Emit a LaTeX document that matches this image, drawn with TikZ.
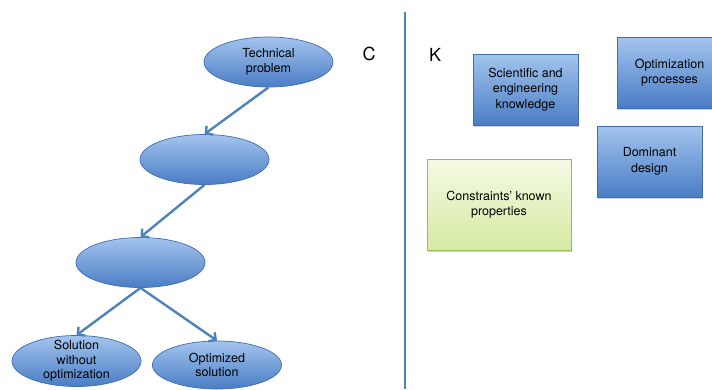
\documentclass[tikz,border=0pt]{standalone}
\usepackage{fontspec}
\setmainfont{TeX Gyre Heros}
\usetikzlibrary{shapes.geometric, arrows.meta, shadows}
\definecolor{ovaltop}{HTML}{A3C4EE}
\definecolor{ovalbottom}{HTML}{4A7DC4}
\definecolor{ovalline}{HTML}{3F6DAE}
\definecolor{linkblue}{HTML}{4F81BD}
\definecolor{greentop}{HTML}{F4FAE4}
\definecolor{greenbottom}{HTML}{D6EAA2}
\definecolor{greenline}{HTML}{9BBB59}
\tikzset{
    oval/.style={
        ellipse, minimum width=129pt, minimum height=50pt, inner sep=0pt,
        draw=ovalline, line width=0.7pt, top color=ovaltop, bottom color=ovalbottom,
        align=center, font=\fontsize{12.5}{14.5}\selectfont
    },
    kbox/.style={
        rectangle, minimum width=105pt, minimum height=71pt, inner sep=2pt,
        draw=ovalline, line width=0.7pt, top color=ovaltop, bottom color=ovalbottom,
        drop shadow={opacity=0.35, shadow xshift=1pt, shadow yshift=-1.5pt},
        align=center, font=\fontsize{12.5}{15.5}\selectfont
    },
    greenbox/.style={
        kbox, draw=greenline, top color=greentop, bottom color=greenbottom,
        minimum width=144pt, minimum height=91pt
    },
    arrow/.style={
        -{Straight Barb[length=5pt, width=11pt]}, line width=2.4pt, draw=linkblue
    },
    letter/.style={font=\fontsize{18}{20}\selectfont}
}

\begin{document}
\begin{tikzpicture}[x=1pt, y=-1pt]
    \useasboundingbox (0,0) rectangle (712,389);

    % C side
    \node[oval] (problem) at (268.5,62)  {Technical\\problem};
    \node[oval] (step1)   at (204.5,159.5) {};
    \node[oval] (step2)   at (140.5,262.5) {};
    \node[oval, minimum height=51pt,
          label={[align=center, font=\fontsize{12.5}{14.5}\selectfont]center:Solution\\without\\optimization}]
                          (noopt)   at (76.5,361) {};
    \node[oval, minimum height=48pt] (opt) at (217,365) {Optimized\\solution};

    \draw[arrow] (problem.south) -- (step1.north);
    \draw[arrow] (step1.south)   -- (step2.north);
    \draw[arrow] (step2.south)   -- (noopt.north);
    \draw[arrow] (step2.south)   -- (opt.north);

    \node[letter] (clabel) at (369,54) {C};

    % separator
    \coordinate (sepTop) at (405,12);
    \coordinate (sepBot) at (405,389);
    \draw[linkblue, line width=2pt] (sepTop) -- (sepBot);

    % K side
    \node[letter] (klabel) at (435,55) {K};
    \node[kbox] (science)   at (525.5,89.5) {Scientific and\\engineering\\knowledge};
    \node[kbox] (optproc)   at (669.5,72.5) {Optimization\\processes};
    \node[kbox] (dominant)  at (649.5,161.5) {Dominant\\design};
    \node[greenbox] (constraints) at (499,204.5) {Constraints' known\\properties};

\end{tikzpicture}
\end{document}
